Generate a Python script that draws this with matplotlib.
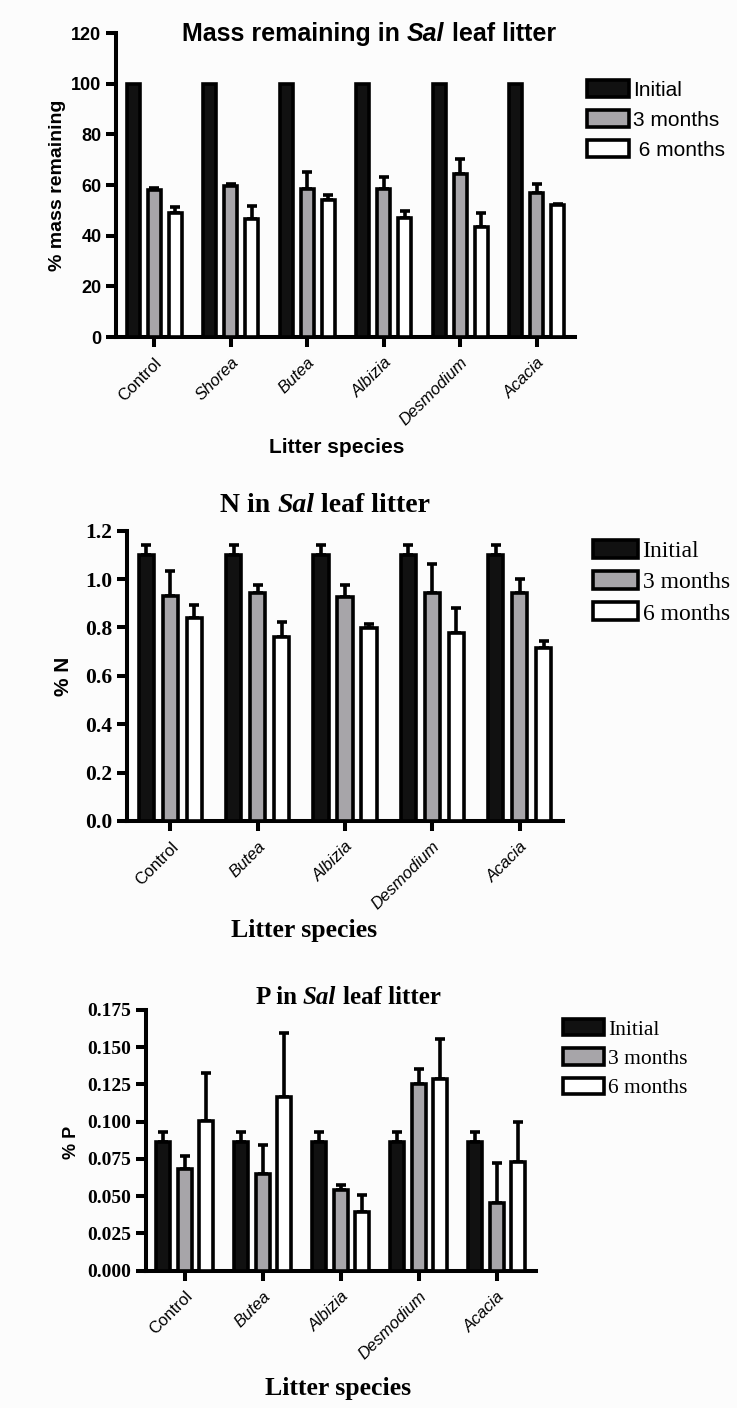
import numpy as np
import matplotlib.pyplot as plt

# ---- data ----
mass_species = ["Control", "Shorea", "Butea", "Albizia", "Desmodium", "Acacia"]
mass_init = [100, 100, 100, 100, 100, 100]
mass_3m = [58.0, 59.6, 58.3, 58.3, 64.2, 56.7]
mass_3m_err = [1.0, 0.9, 6.7, 4.7, 5.9, 3.6]
mass_6m = [48.8, 46.6, 54.1, 47.0, 43.5, 52.1]
mass_6m_err = [2.4, 5.2, 1.8, 2.8, 5.3, 0.4]

np_species = ["Control", "Butea", "Albizia", "Desmodium", "Acacia"]

n_init = [1.10, 1.10, 1.10, 1.10, 1.10]
n_init_err = [0.042, 0.042, 0.042, 0.042, 0.042]
n_3m = [0.931, 0.941, 0.926, 0.941, 0.944]
n_3m_err = [0.102, 0.035, 0.050, 0.123, 0.056]
n_6m = [0.838, 0.762, 0.799, 0.779, 0.716]
n_6m_err = [0.054, 0.059, 0.015, 0.103, 0.028]

p_init = [0.0866, 0.0866, 0.0866, 0.0866, 0.0866]
p_init_err = [0.0062, 0.0062, 0.0062, 0.0062, 0.0062]
p_3m = [0.0681, 0.0647, 0.0542, 0.1251, 0.0452]
p_3m_err = [0.0091, 0.0197, 0.0033, 0.0105, 0.0269]
p_6m = [0.1005, 0.1168, 0.0392, 0.1285, 0.0732]
p_6m_err = [0.0320, 0.0426, 0.0116, 0.0268, 0.0264]

W, H = 737, 1408
SANS = "Liberation Sans"
SERIF = "Liberation Serif"
GREY = "#a7a5a9"
LW = 2.6

fig = plt.figure(figsize=(W / 100, H / 100), dpi=100, facecolor="#fcfcfc")


def px(x, y):
    # figure pixel (from top-left) -> figure fraction
    return x / W, 1 - y / H


def panel(rect, species, series, ylim, yticks, yfmt, tick_font, tick_size):
    ax = fig.add_axes(rect, facecolor="#fcfcfc")
    x = np.arange(len(species))
    step, width = 0.275, 0.175
    colors = ["#111111", GREY, "white"]
    bars = []
    for i, (vals, err) in enumerate(series):
        xs = x + (i - 1) * step
        b = ax.bar(xs, vals, width, color=colors[i], edgecolor="black",
                   linewidth=LW, zorder=3)
        bars.append(b)
        if err is not None:
            ax.errorbar(xs, vals, yerr=[np.zeros(len(vals)), err], fmt="none",
                        ecolor="black", elinewidth=LW, capsize=3.8,
                        capthick=LW, zorder=2)
    ax.set_xlim(-0.5, len(species) - 0.5)
    ax.set_ylim(*ylim)
    ax.set_yticks(yticks)
    ax.set_yticklabels([yfmt % v for v in yticks], fontfamily=tick_font,
                       fontweight="bold", fontsize=tick_size)
    ax.set_xticks(x)
    ax.set_xticklabels(species, rotation=45, ha="right",
                       rotation_mode="anchor", fontfamily=SANS, fontsize=12)
    for lab, name in zip(ax.get_xticklabels(), species):
        lab.set_style("normal" if name == "Control" else "italic")
    for s in ["top", "right"]:
        ax.spines[s].set_visible(False)
    for s in ["left", "bottom"]:
        ax.spines[s].set_linewidth(LW + 0.3)
    ax.tick_params(direction="out", length=7, width=LW + 0.3)
    ax.tick_params(axis="x", pad=6)
    return ax, bars


def rich_title(xc, yc, parts, family, size):
    r = fig.canvas.get_renderer()
    a = fig.text(0, 0, "ii", family=family, weight="bold", fontsize=size)
    b = fig.text(0, 0, "i i", family=family, weight="bold", fontsize=size)
    gap = (b.get_window_extent(r).width - a.get_window_extent(r).width) / W
    a.remove()
    b.remove()
    texts = [fig.text(0, yc, s, family=family, weight="bold", style=st,
                      fontsize=size, va="center", ha="left") for s, st in parts]
    widths = [t.get_window_extent(r).width / W for t in texts]
    total = sum(widths) + gap * (len(texts) - 1)
    cur = xc - total / 2
    for t, w in zip(texts, widths):
        t.set_x(cur)
        cur += w + gap


def legend(ax, bars, labels, family, size, anchor, hl, hh, ls):
    ax.legend(bars, labels, loc="upper left", bbox_to_anchor=anchor,
              bbox_transform=fig.transFigure, frameon=False, borderpad=0,
              borderaxespad=0, handlelength=hl, handleheight=hh,
              handletextpad=0.2, labelspacing=ls,
              prop={"family": family, "size": size})


# ---- top: mass remaining ----
ax1, bars1 = panel([116 / W, 1 - 337 / H, 459 / W, 304 / H], mass_species,
                   [(mass_init, None), (mass_3m, mass_3m_err), (mass_6m, mass_6m_err)],
                   (0, 120), np.arange(0, 121, 20), "%d", SANS, 13)
ax1.set_ylabel("% mass remaining", family=SANS, weight="bold", fontsize=14, va="center")
ax1.yaxis.set_label_coords(*px(58, 185), transform=fig.transFigure)
ax1.set_xlabel("Litter species", family=SANS, weight="bold", fontsize=15, va="center")
ax1.xaxis.set_label_coords(*px(337, 448), transform=fig.transFigure)
rich_title(*px(369, 34), [("Mass remaining in", "normal"), ("Sal", "italic"),
                          ("leaf litter", "normal")], SANS, 18)
legend(ax1, bars1, ["Initial", "3 months", " 6 months"], SANS, 15,
       px(587, 80), 2.0, 0.87, 0.5)

# ---- middle: N ----
ax2, bars2 = panel([126.7 / W, 1 - 821 / H, 436.5 / W, 290.3 / H], np_species,
                   [(n_init, n_init_err), (n_3m, n_3m_err), (n_6m, n_6m_err)],
                   (0, 1.2), np.round(np.arange(0, 1.21, 0.2), 1), "%.1f", SERIF, 15.5)
ax2.set_ylabel("% N", family=SANS, weight="bold", fontsize=15, va="center")
ax2.yaxis.set_label_coords(*px(64, 676), transform=fig.transFigure)
ax2.set_xlabel("Litter species", family=SERIF, weight="bold", fontsize=18.5, va="center")
ax2.xaxis.set_label_coords(*px(304, 930), transform=fig.transFigure)
rich_title(*px(325, 505), [("N in", "normal"), ("Sal", "italic"),
                           ("leaf litter", "normal")], SERIF, 20)
legend(ax2, bars2, ["Initial", "3 months", "6 months"], SERIF, 17,
       px(593, 540), 1.9, 0.8, 0.38)

# ---- bottom: P ----
ax3, bars3 = panel([145.7 / W, 1 - 1270.7 / H, 390 / W, 260.7 / H], np_species,
                   [(p_init, p_init_err), (p_3m, p_3m_err), (p_6m, p_6m_err)],
                   (0, 0.175), np.round(np.arange(0, 0.176, 0.025), 3), "%.3f", SERIF, 14)
ax3.set_ylabel("% P", family=SANS, weight="bold", fontsize=13, va="center")
ax3.yaxis.set_label_coords(*px(72, 1142), transform=fig.transFigure)
ax3.set_xlabel("Litter species", family=SERIF, weight="bold", fontsize=18.5, va="center")
ax3.xaxis.set_label_coords(*px(338, 1388), transform=fig.transFigure)
rich_title(*px(348, 997), [("P in", "normal"), ("Sal", "italic"),
                           ("leaf litter", "normal")], SERIF, 18)
legend(ax3, bars3, ["Initial", "3 months", "6 months"], SERIF, 15.5,
       px(563, 1019), 1.9, 0.8, 0.4)

fig.savefig("out.png", dpi=100, facecolor=fig.get_facecolor())
